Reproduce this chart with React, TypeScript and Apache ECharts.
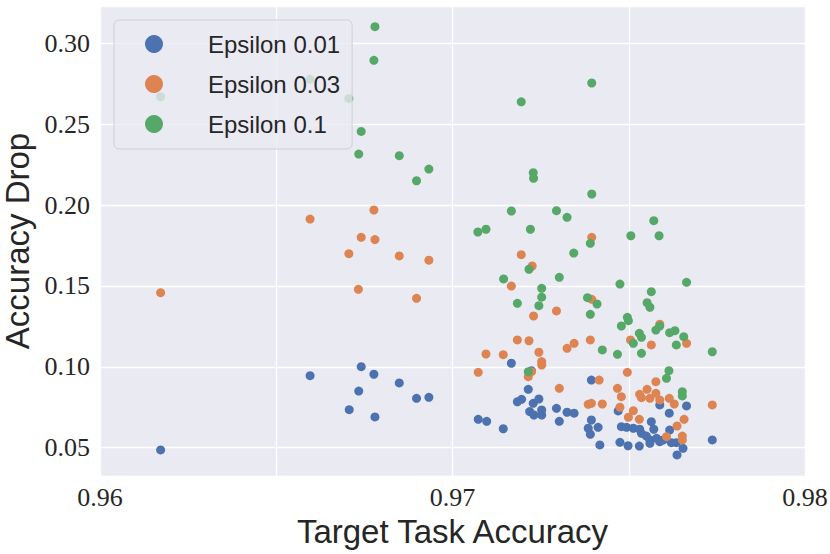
import React, { useEffect, useRef } from "react";
import * as echarts from "echarts";

const seriesNames = ["Epsilon 0.01", "Epsilon 0.03", "Epsilon 0.1"];
const seriesColors = ["#4c72b0", "#dd8452", "#55a868"];
const xTickLabels = [0.96, 0.97, 0.98];
const yTickLabels = [0.05, 0.1, 0.15, 0.2, 0.25, 0.3];
const xAxisTitle = "Target Task Accuracy";
const yAxisTitle = "Accuracy Drop";

const eps001 = [
  [0.96172, 0.0486], [0.96596, 0.0945], [0.96741, 0.1001], [0.96777, 0.0954],
  [0.96849, 0.09], [0.96734, 0.085], [0.96707, 0.0735], [0.9678, 0.069],
  [0.96898, 0.0805], [0.96933, 0.0811], [0.97167, 0.1022], [0.97224, 0.0976],
  [0.97215, 0.0861], [0.97184, 0.0784], [0.97196, 0.0799], [0.97229, 0.0774],
  [0.97245, 0.0801], [0.97219, 0.0723], [0.97231, 0.0702], [0.97253, 0.0733],
  [0.97253, 0.0702], [0.97073, 0.0675], [0.97097, 0.0663], [0.97144, 0.0617],
  [0.97295, 0.0743], [0.97303, 0.0663], [0.97325, 0.0719], [0.97345, 0.0713],
  [0.97394, 0.0918], [0.97394, 0.0671], [0.97385, 0.062], [0.97391, 0.0583],
  [0.97413, 0.0626], [0.97418, 0.0517], [0.9747, 0.0727], [0.97479, 0.063],
  [0.97494, 0.0626], [0.97513, 0.062], [0.97531, 0.0614], [0.97536, 0.0589],
  [0.9755, 0.0572], [0.97564, 0.0661], [0.97571, 0.0614], [0.9756, 0.0548],
  [0.97579, 0.0558], [0.97588, 0.0764], [0.97615, 0.0713], [0.97616, 0.0609],
  [0.97598, 0.0548], [0.97621, 0.0531], [0.97635, 0.0531], [0.97654, 0.0496],
  [0.97637, 0.0455], [0.97664, 0.0758], [0.97737, 0.0548], [0.97475, 0.0533],
  [0.97498, 0.0512], [0.9753, 0.051], [0.9756, 0.0527], [0.97588, 0.0537],
];

const eps003 = [
  [0.96596, 0.1913], [0.96777, 0.1969], [0.96741, 0.18], [0.9678, 0.1786],
  [0.96706, 0.1699], [0.96849, 0.1685], [0.96933, 0.1659], [0.96172, 0.1458],
  [0.96733, 0.1479], [0.96898, 0.1423], [0.97395, 0.18], [0.97195, 0.1693],
  [0.97226, 0.1623], [0.97167, 0.1499], [0.97395, 0.1417], [0.9723, 0.1314],
  [0.97295, 0.1345], [0.97184, 0.1166], [0.97217, 0.1161], [0.97095, 0.1079],
  [0.97144, 0.1075], [0.97245, 0.109], [0.97253, 0.1032], [0.97253, 0.1011],
  [0.97325, 0.1114], [0.97345, 0.1145], [0.97391, 0.1166], [0.97073, 0.0966],
  [0.97215, 0.0939], [0.97224, 0.097], [0.97303, 0.0867], [0.97385, 0.0768],
  [0.97394, 0.0774], [0.97416, 0.0918], [0.97588, 0.1263], [0.97505, 0.1166],
  [0.97564, 0.1135], [0.97664, 0.1145], [0.97496, 0.0966], [0.97577, 0.0908],
  [0.97468, 0.0867], [0.97479, 0.0815], [0.97552, 0.0861], [0.97531, 0.083],
  [0.97536, 0.0809], [0.9756, 0.0805], [0.97577, 0.0836], [0.97588, 0.0795],
  [0.97615, 0.0805], [0.97629, 0.077], [0.97425, 0.077], [0.97475, 0.075],
  [0.97513, 0.0729], [0.97499, 0.0688], [0.9753, 0.0675], [0.97737, 0.0764],
  [0.97657, 0.0675], [0.97637, 0.0634], [0.97607, 0.0568], [0.97652, 0.0572],
  [0.97652, 0.0548],
];

const eps01 = [
  [0.96172, 0.2669], [0.96596, 0.2777], [0.96706, 0.2659], [0.9678, 0.3102],
  [0.96777, 0.2894], [0.96741, 0.2455], [0.96734, 0.2315], [0.96849, 0.2305],
  [0.96898, 0.215], [0.96933, 0.2222], [0.97395, 0.2754], [0.97195, 0.2638],
  [0.97229, 0.22], [0.9723, 0.2165], [0.97395, 0.2068], [0.97167, 0.1963],
  [0.97295, 0.1965], [0.97325, 0.1924], [0.97571, 0.1903], [0.97072, 0.1833],
  [0.97095, 0.185], [0.97221, 0.185], [0.97506, 0.181], [0.97586, 0.181],
  [0.97391, 0.1763], [0.97344, 0.1703], [0.97217, 0.1603], [0.97145, 0.1543],
  [0.97303, 0.1553], [0.97253, 0.1485], [0.97253, 0.143], [0.97245, 0.1378],
  [0.97184, 0.1392], [0.97383, 0.1427], [0.9741, 0.1388], [0.97391, 0.1324],
  [0.97475, 0.1511], [0.97664, 0.1522], [0.97564, 0.1464], [0.97552, 0.1396],
  [0.9756, 0.1368], [0.97496, 0.1306], [0.97499, 0.1285], [0.97479, 0.1252],
  [0.9753, 0.1207], [0.97536, 0.1182], [0.97577, 0.1227], [0.97588, 0.1252],
  [0.97616, 0.1211], [0.97631, 0.1223], [0.97656, 0.1186], [0.97513, 0.1145],
  [0.97425, 0.1104], [0.97468, 0.1077], [0.97536, 0.1083], [0.97635, 0.1135],
  [0.97737, 0.1093], [0.97614, 0.0976], [0.97607, 0.0929], [0.97652, 0.0846],
  [0.97652, 0.082], [0.97215, 0.097],
];

const seriesData = [eps001, eps003, eps01];

const isTick = (list: number[], v: number) => list.some((t) => Math.abs(t - v) < 1e-7);

export default function App() {
  const ref = useRef<HTMLDivElement>(null);
  useEffect(() => {
    document.body.style.margin = "0";
    if (!ref.current) return;
    const chart = echarts.init(ref.current, undefined, { renderer: "svg" });
    const textColor = "#262626";
    chart.setOption({
      animation: false,
      backgroundColor: "#ffffff",
      grid: {
        left: 100,
        right: 25,
        top: 6,
        bottom: 78,
        show: true,
        backgroundColor: "#eaeaf2",
        borderWidth: 0,
        containLabel: false,
        outerBoundsMode: "none",
      },
      xAxis: {
        type: "value",
        min: 0.96,
        max: 0.98,
        interval: 0.005,
        name: xAxisTitle,
        nameLocation: "middle",
        nameGap: 30,
        nameTextStyle: { fontFamily: "Liberation Sans", fontSize: 33, color: textColor },
        axisLine: { show: false },
        axisTick: { show: false },
        splitLine: { show: true, lineStyle: { color: "#ffffff", width: 1.3 } },
        axisLabel: {
          margin: 8,
          fontFamily: "Liberation Serif",
          fontSize: 26,
          color: textColor,
          formatter: (v: number) => (isTick(xTickLabels, v) ? v.toFixed(2) : ""),
        },
      },
      yAxis: {
        type: "value",
        min: 0.0325,
        max: 0.323,
        splitNumber: 6,
        name: yAxisTitle,
        nameLocation: "middle",
        nameGap: 57,
        nameRotate: 90,
        nameTextStyle: { fontFamily: "Liberation Sans", fontSize: 33, color: textColor },
        axisLine: { show: false },
        axisTick: { show: false },
        splitLine: { show: true, lineStyle: { color: "#ffffff", width: 1.3 } },
        axisLabel: {
          margin: 10,
          fontFamily: "Liberation Serif",
          fontSize: 26,
          color: textColor,
          showMinLabel: true,
          showMaxLabel: true,
          formatter: (v: number) => (isTick(yTickLabels, v) ? v.toFixed(2) : ""),
        },
      },
      legend: {
        left: 114,
        top: 20,
        orient: "vertical",
        icon: "circle",
        itemWidth: 18,
        itemHeight: 18,
        itemGap: 16,
        padding: [12, 12, 13, 31],
        backgroundColor: "rgba(234,234,242,0.8)",
        borderColor: "#cfcfd4",
        borderWidth: 1,
        borderRadius: 5,
        textStyle: {
          fontFamily: "Liberation Sans",
          fontSize: 24,
          lineHeight: 24,
          color: textColor,
          padding: [0, 0, 0, 40],
        },
        data: seriesNames,
      },
      series: seriesNames.map((name, i) => ({
        name,
        type: "scatter",
        data: seriesData[i],
        symbol: "circle",
        symbolSize: 9,
        itemStyle: { color: seriesColors[i], opacity: 1 },
        emphasis: { disabled: true },
      })),
    });
    return () => chart.dispose();
  }, []);
  return (
    <div
      ref={ref}
      style={{ position: "absolute", left: 0, top: 0, width: 830, height: 554 }}
    />
  );
}
